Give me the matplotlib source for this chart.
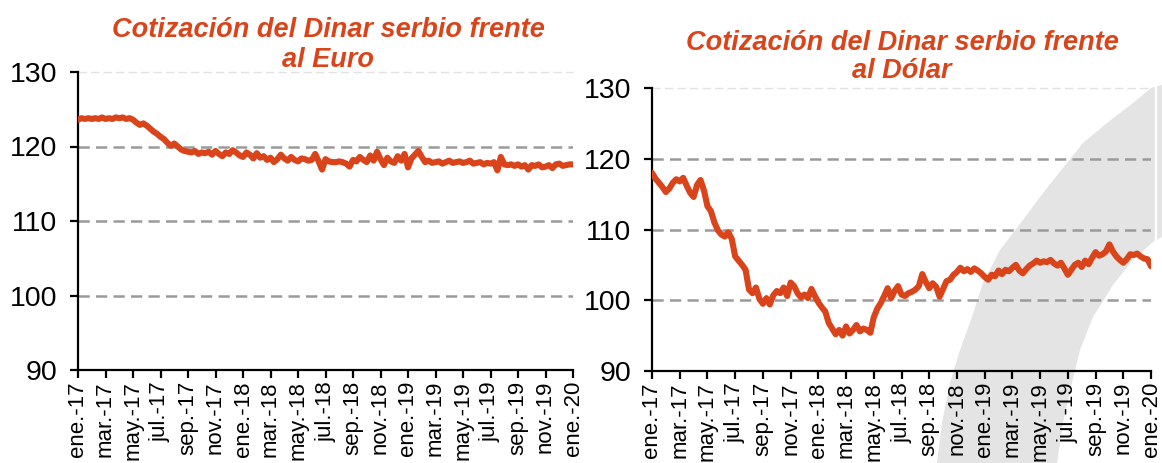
import numpy as np
import matplotlib
matplotlib.use("Agg")
import matplotlib.pyplot as plt
from matplotlib.patches import Polygon

# ---------------- data ----------------
month_labels = ["ene.-17", "mar.-17", "may.-17", "jul.-17", "sep.-17", "nov.-17",
                "ene.-18", "mar.-18", "may.-18", "jul.-18", "sep.-18", "nov.-18",
                "ene.-19", "mar.-19", "may.-19", "jul.-19", "sep.-19", "nov.-19",
                "ene.-20"]

# weekly-ish readings (4 per month), Jan-2017 .. Jan-2020
eur_rsd = [
    123.6, 123.8, 123.7, 123.8, 123.7, 123.8, 123.7, 123.9, 123.7, 123.8, 123.7, 123.9,
    123.8, 123.9, 123.7, 123.8, 123.6, 123.2, 122.9, 123.1, 122.8, 122.4, 122.0, 121.7,
    121.3, 121.0, 120.5, 120.1, 120.4, 120.0, 119.6, 119.4, 119.3, 119.2, 119.4, 119.0,
    119.2, 119.1, 119.3, 118.9, 119.4, 119.0, 118.7, 119.2, 119.0, 119.5, 119.2, 118.8,
    118.6, 119.2, 118.9, 118.4, 119.1, 118.5, 118.7, 118.2, 118.5, 117.9, 118.3, 118.9,
    118.4, 118.1, 118.6, 118.2, 118.0, 118.4, 118.3, 118.1, 118.2, 119.0, 118.0, 116.9,
    118.3, 118.0, 117.9, 117.9, 118.0, 117.9, 117.7, 117.3, 118.2, 118.0, 118.6, 118.2,
    117.9, 118.8, 118.1, 119.3, 118.3, 117.5, 118.5, 118.0, 117.8, 118.7, 118.1, 119.0,
    117.2, 118.4, 118.9, 119.4, 118.6, 117.9, 118.1, 117.8, 117.9, 118.0, 117.7, 117.9,
    118.1, 117.8, 117.9, 118.0, 117.8, 117.9, 118.1, 117.7, 117.8, 117.9, 117.6, 117.8,
    117.7, 117.9, 116.8, 118.6, 117.6, 117.5, 117.6, 117.4, 117.6, 117.3, 117.5, 116.9,
    117.5, 117.4, 117.6, 117.2, 117.3, 117.5, 117.1, 117.6, 117.7, 117.4, 117.5, 117.6,
    117.6,
]

usd_rsd = [
    118.0, 117.2, 116.6, 116.0, 115.3, 115.8, 116.6, 117.1, 116.8, 117.3, 116.2, 115.2,
    114.6, 116.3, 117.0, 115.5, 113.3, 112.6, 111.0, 109.9, 109.3, 109.0, 109.6, 108.7,
    106.2, 105.6, 105.0, 104.3, 101.5, 101.0, 101.8, 100.2, 99.5, 100.3, 99.4, 100.7,
    101.3, 101.0, 101.8, 100.6, 102.5, 102.0, 101.0, 100.4, 100.8, 100.3, 101.6, 100.6,
    99.7, 99.0, 98.4, 96.8, 96.0, 95.2, 95.8, 95.0, 96.3, 95.3, 95.8, 96.5,
    95.6, 96.0, 95.8, 95.4, 97.6, 98.8, 99.6, 100.6, 101.7, 100.3, 101.3, 102.0,
    100.8, 100.6, 101.0, 101.2, 101.5, 102.0, 103.7, 102.6, 101.7, 102.4, 101.9, 100.5,
    101.6, 102.7, 102.9, 103.6, 104.0, 104.6, 104.1, 104.4, 104.0, 104.5, 104.2, 103.8,
    103.3, 102.9, 103.6, 103.4, 104.2, 103.7, 104.3, 104.1, 104.6, 105.0, 104.2, 103.8,
    104.4, 104.9, 105.2, 105.6, 105.3, 105.5, 105.4, 105.7, 105.2, 104.9, 105.3, 104.5,
    103.6, 104.3, 105.0, 105.3, 104.7, 105.6, 105.1, 106.0, 106.8, 106.3, 106.5, 106.9,
    107.9, 106.9, 106.2, 105.7, 105.3, 105.8, 106.5, 106.4, 106.6, 106.2, 105.9, 105.8,
    104.8,
]

titles = ["Cotización del Dinar serbio frente\nal Euro",
          "Cotización del Dinar serbio frente\nal Dólar"]

# ---------------- style ----------------
W, H = 1162, 463
ORANGE = "#D9441B"
GRID = "#9a9a9a"
plt.rcParams["font.family"] = ["Liberation Sans", "DejaVu Sans"]

fig = plt.figure(figsize=(W / 100, H / 100), dpi=100)


def fx(px):
    return px / W


def fy(py):
    return 1 - py / H


ax1 = fig.add_axes([fx(78), fy(370), fx(573) - fx(78), fy(72) - fy(370)])
ax2 = fig.add_axes([fx(652), fy(371), fx(1151) - fx(652), fy(88) - fy(371)])

# decorative grey swoosh behind the right chart (figure pixel coords)
swoosh_px = [(937, 463), (942, 423), (950, 383), (960, 350), (972, 317), (983, 283),
             (1000, 250), (1023, 220), (1043, 193), (1067, 163), (1083, 143),
             (1107, 123), (1133, 103), (1151, 88), (1162, 85), (1162, 237),
             (1153, 242), (1133, 260), (1113, 285), (1093, 317), (1080, 350),
             (1072, 383), (1063, 423), (1057, 463)]
poly = Polygon([(fx(x), fy(y)) for x, y in swoosh_px], closed=True,
               transform=fig.transFigure, facecolor="#e4e4e4", edgecolor="none",
               clip_on=False, zorder=0.1)
ax2.add_patch(poly)
ax2.plot([fx(1155.5), fx(1155.5)], [fy(84), fy(240)], transform=fig.transFigure,
         color="white", lw=1.6, clip_on=False, zorder=0.2)

for ax, series, title in [(ax1, eur_rsd, titles[0]), (ax2, usd_rsd, titles[1])]:
    x = np.arange(len(series)) / 4.0
    ax.patch.set_alpha(0)
    ax.set_axisbelow(True)
    ax.plot(x, series, color=ORANGE, lw=4.4, solid_joinstyle="round",
            solid_capstyle="round", zorder=3)
    ax.set_xlim(0, 36)
    ax.set_ylim(90, 130)
    ax.set_yticks([90, 100, 110, 120, 130])
    ax.set_xticks(np.arange(0, 37, 2))
    ax.set_xticklabels(month_labels, rotation=90, fontsize=16)
    for lbl in ax.get_xticklabels():
        lbl.set_verticalalignment("top")
    ax.tick_params(axis="y", labelsize=20.5, length=6, width=1.6, pad=9)
    ax.tick_params(axis="x", length=6, width=1.6, pad=2)
    for side in ["top", "right"]:
        ax.spines[side].set_visible(False)
    for side in ["left", "bottom"]:
        ax.spines[side].set_linewidth(1.6)
    for yv in [100, 110, 120]:
        ax.axhline(yv, color=GRID, lw=1.8, ls=(0, (4.5, 2.5)), zorder=1)
    ax.axhline(130, color="#e2e2e2", lw=1.0, ls=(0, (6, 3)), zorder=1, clip_on=False)

fig.text(fx(328), fy(45), titles[0], ha="center", va="center", color=ORANGE,
         fontsize=19.5, fontweight="bold", fontstyle="italic", linespacing=1.2)
fig.text(fx(902), fy(57), titles[1], ha="center", va="center", color=ORANGE,
         fontsize=19.5, fontweight="bold", fontstyle="italic", linespacing=1.15)

fig.savefig("out.png", dpi=100)
